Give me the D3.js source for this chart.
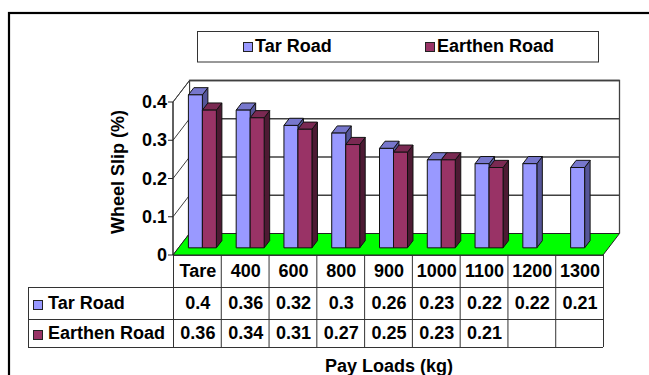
<!DOCTYPE html>
<html>
<head>
<meta charset="utf-8">
<script src="https://cdn.jsdelivr.net/npm/d3@7"></script>
<style>
  html, body { margin: 0; padding: 0; background: #fff; }
  svg { display: block; }
  text { font-family: "Liberation Sans", Arial, sans-serif; font-weight: bold; fill: #000; }
</style>
</head>
<body>
<svg id="chart" width="649" height="375"></svg>
<script>
// ---- data ----
const categories = ["Tare", "400", "600", "800", "900", "1000", "1100", "1200", "1300"];
const seriesNames = ["Tar Road", "Earthen Road"];
const tarRoad = [0.4, 0.36, 0.32, 0.3, 0.26, 0.23, 0.22, 0.22, 0.21];
const earthenRoad = [0.36, 0.34, 0.31, 0.27, 0.25, 0.23, 0.21, null, null];
const yTicks = [0, 0.1, 0.2, 0.3, 0.4];
const yTickLabels = ["0", "0.1", "0.2", "0.3", "0.4"];

// ---- setup ----
const svg = d3.select("#chart");
const FS = 18;
const DX = 16.5, DY = -21.5; // full depth offset of the 3D box
const colors = {
  "Tar Road": { front: "#9999FF", top: "#7777CC", side: "#555599" },
  "Earthen Road": { front: "#993366", top: "#7A2952", side: "#4D1A33" }
};
const values = { "Tar Road": tarRoad, "Earthen Road": earthenRoad };

const x = d3.scaleBand().domain(categories).range([173, 603]).paddingInner(0).paddingOuter(0);
const y = d3.scaleLinear().domain([0, 0.4]).range([255, 102]);
const xs = d3.scaleBand().domain(seriesNames).range([0, x.bandwidth()]).paddingInner(0).paddingOuter(0.707);

function P(px, v, d) { return [px + d * DX, y(v) + d * DY]; }
const line = d3.line();

// outer border
svg.append("rect").attr("x", 9).attr("y", 13).attr("width", 700).attr("height", 400)
  .attr("fill", "none").attr("stroke", "#000").attr("stroke-width", 2.2);

// legend
const lg = svg.append("g");
lg.append("rect").attr("x", 197.5).attr("y", 31.5).attr("width", 401).attr("height", 30.5)
  .attr("fill", "#fff").attr("stroke", "#333").attr("stroke-width", 1);
const legendX = [243, 425];
seriesNames.forEach((s, i) => {
  lg.append("rect").attr("x", legendX[i] + 0.5).attr("y", 42.5).attr("width", 9).attr("height", 9)
    .attr("fill", colors[s].front).attr("stroke", "#222").attr("stroke-width", 1);
  lg.append("text").attr("x", legendX[i] + 12).attr("y", 52).attr("font-size", FS).text(s);
});

// back wall
const x0 = x.range()[0], x1 = x.range()[1];
svg.append("path")
  .attr("d", line([P(x0, 0, 1), P(x0, 0.4, 1), P(x1, 0.4, 1), P(x1, 0, 1)]))
  .attr("fill", "#fff").attr("stroke", "#404040").attr("stroke-width", 1.3);
// left wall
svg.append("path")
  .attr("d", line([P(x0, 0, 0), P(x0, 0.4, 0), P(x0, 0.4, 1), P(x0, 0, 1)]) + "Z")
  .attr("fill", "#fff").attr("stroke", "#404040").attr("stroke-width", 1);
// gridlines on back wall and left wall
yTicks.filter(v => v > 0).forEach(v => {
  svg.append("path").attr("d", line([P(x0, v, 1), P(x1, v, 1)]))
    .attr("stroke", "#404040").attr("stroke-width", 1.5).attr("fill", "none");
  svg.append("path").attr("d", line([P(x0, v, 0), P(x0, v, 1)]))
    .attr("stroke", "#404040").attr("stroke-width", 1).attr("fill", "none");
});
// floor
svg.append("path")
  .attr("d", line([P(x0, 0, 0), P(x1, 0, 0), P(x1, 0, 1), P(x0, 0, 1)]) + "Z")
  .attr("fill", "#00FF00").attr("stroke", "#222").attr("stroke-width", 1);

// y axis line & ticks
svg.append("line").attr("x1", x0).attr("x2", x0).attr("y1", y(0)).attr("y2", y(0.4))
  .attr("stroke", "#222").attr("stroke-width", 1);
yTicks.forEach((v, i) => {
  svg.append("line").attr("x1", x0 - 5).attr("x2", x0).attr("y1", y(v)).attr("y2", y(v))
    .attr("stroke", "#222").attr("stroke-width", 1);
  svg.append("text").attr("x", x0 - 6).attr("y", y(v) + 6).attr("text-anchor", "end")
    .attr("font-size", FS).text(yTickLabels[i]);
});

// bars
const BD = 1 / 3; // bar depth fraction
categories.forEach((c, ci) => {
  seriesNames.forEach(s => {
    const v = values[s][ci];
    if (v == null) return;
    const bx = x(c) + xs(s) + (1 / 3) * DX;
    const w = xs.bandwidth();
    const yb = y(0) + (1 / 3) * DY;
    const yt = y(v) + (1 / 3) * DY;
    const dx = BD * DX, dy = BD * DY;
    const g = svg.append("g").attr("stroke", "#111").attr("stroke-width", 1).attr("stroke-linejoin", "round");
    g.append("path").attr("d", line([[bx + w, yt], [bx + w + dx, yt + dy], [bx + w + dx, yb + dy], [bx + w, yb]]) + "Z")
      .attr("fill", colors[s].side);
    g.append("path").attr("d", line([[bx, yt], [bx + w, yt], [bx + w + dx, yt + dy], [bx + dx, yt + dy]]) + "Z")
      .attr("fill", colors[s].top);
    g.append("rect").attr("x", bx).attr("y", yt).attr("width", w).attr("height", yb - yt)
      .attr("fill", colors[s].front);
  });
});

// data table
const tableLeft = 28;
const rowLines = [255, 287, 319, 347];
const tg = svg.append("g").attr("stroke", "#333").attr("stroke-width", 1);
tg.append("line").attr("x1", x0).attr("x2", x1).attr("y1", rowLines[0] + 0.5).attr("y2", rowLines[0] + 0.5);
rowLines.slice(1).forEach(r => {
  tg.append("line").attr("x1", tableLeft).attr("x2", x1).attr("y1", r + 0.5).attr("y2", r + 0.5);
});
tg.append("line").attr("x1", tableLeft + 0.5).attr("x2", tableLeft + 0.5).attr("y1", rowLines[1]).attr("y2", rowLines[3]);
categories.forEach(c => {
  tg.append("line").attr("x1", x(c) + 0.5).attr("x2", x(c) + 0.5).attr("y1", rowLines[0]).attr("y2", rowLines[3]);
});
tg.append("line").attr("x1", x1 + 0.5).attr("x2", x1 + 0.5).attr("y1", rowLines[0]).attr("y2", rowLines[3]);

// header text
categories.forEach(c => {
  svg.append("text").attr("x", x(c) + x.bandwidth() / 2 + 1).attr("y", 277)
    .attr("text-anchor", "middle").attr("font-size", FS).text(c);
});
const rowBase = [309, 339];
const fmt = v => String(v);
seriesNames.forEach((s, si) => {
  svg.append("rect").attr("x", 33.5).attr("y", rowBase[si] - 8.5).attr("width", 9).attr("height", 9)
    .attr("fill", colors[s].front).attr("stroke", "#222").attr("stroke-width", 1);
  svg.append("text").attr("x", 48).attr("y", rowBase[si]).attr("font-size", FS).text(s);
  values[s].forEach((v, ci) => {
    if (v == null) return;
    svg.append("text").attr("x", x(categories[ci]) + x.bandwidth() / 2 + 1).attr("y", rowBase[si])
      .attr("text-anchor", "middle").attr("font-size", FS).text(fmt(v));
  });
});

// axis titles
svg.append("text").attr("x", 389).attr("y", 372).attr("text-anchor", "middle")
  .attr("font-size", FS).text("Pay Loads (kg)");
svg.append("text").attr("transform", "translate(124,172) rotate(-90)").attr("text-anchor", "middle")
  .attr("font-size", FS).text("Wheel Slip (%)");
</script>
</body>
</html>
